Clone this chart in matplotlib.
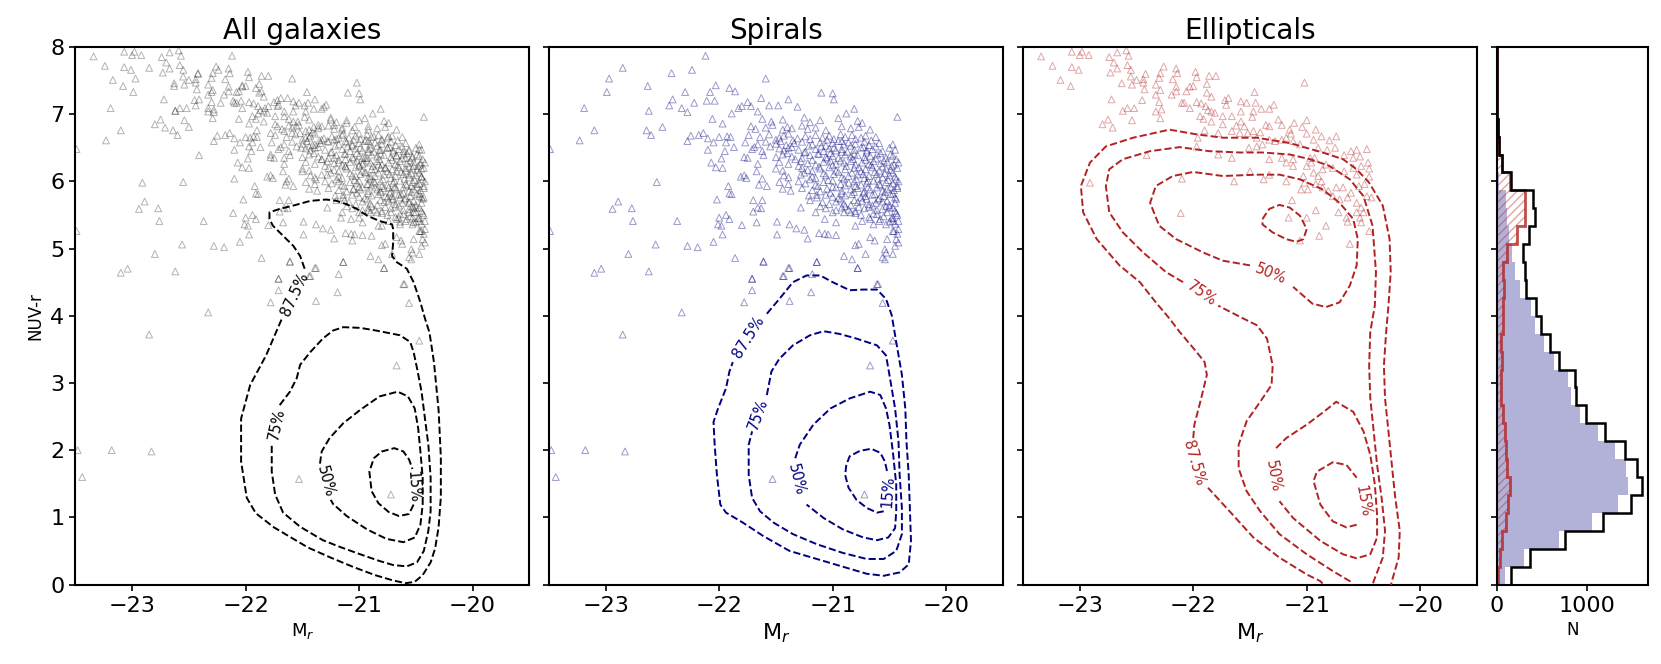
import numpy as np
import matplotlib
matplotlib.use("Agg")
from matplotlib import pyplot as plt
from matplotlib.ticker import MultipleLocator

# ---- scatter points (M_r, NUV-r) ----
spiral_pts = [
    (-22.12, 7.87), (-22.85, 7.69), (-22.97, 7.53), (-22.99, 7.33), (-22.63, 7.42), (-22.42, 7.61),
    (-22.24, 7.66), (-23.19, 7.09), (-23.10, 6.76), (-23.23, 6.61), (-23.49, 6.48), (-22.62, 7.05),
    (-22.64, 6.76), (-22.60, 6.69), (-22.50, 6.81), (-22.30, 7.33), (-22.41, 7.22), (-22.44, 7.13),
    (-22.33, 7.09), (-22.28, 7.03), (-22.22, 7.17), (-22.11, 7.20), (-22.04, 7.20), (-22.08, 7.33),
    (-22.03, 7.43), (-21.91, 7.39), (-21.86, 7.34), (-21.59, 7.53), (-22.06, 6.93), (-21.97, 6.86),
    (-21.89, 7.01), (-21.83, 7.09), (-21.80, 7.12), (-21.72, 7.12), (-21.75, 7.18), (-21.63, 7.24),
    (-21.66, 7.04), (-21.56, 7.13), (-21.48, 7.13), (-21.39, 7.22), (-21.31, 7.11), (-21.10, 7.32),
    (-21.00, 7.31), (-20.99, 7.22), (-20.88, 7.01), (-20.81, 7.08), (-20.43, 6.96), (-22.28, 6.60),
    (-22.25, 6.68), (-22.18, 6.69), (-22.14, 6.72), (-22.10, 6.64), (-22.05, 6.58), (-22.00, 6.66),
    (-21.93, 6.67), (-21.90, 6.66), (-21.94, 6.58), (-21.87, 6.51), (-21.95, 6.45), (-22.10, 6.47),
    (-21.98, 6.34), (-22.07, 6.28), (-22.03, 6.21), (-21.97, 6.20), (-22.55, 5.99), (-21.78, 6.36),
    (-21.75, 6.35), (-21.69, 6.51), (-21.66, 6.26), (-21.67, 6.15), (-21.78, 6.09), (-21.81, 6.07),
    (-21.76, 6.05), (-21.62, 6.04), (-21.65, 5.95), (-21.58, 5.93), (-21.92, 5.93), (-21.91, 5.82),
    (-21.89, 5.81), (-22.02, 5.73), (-22.89, 5.70), (-22.94, 5.59), (-22.77, 5.60), (-22.76, 5.41),
    (-22.37, 5.41), (-22.00, 5.46), (-21.94, 5.50), (-21.91, 5.44), (-22.01, 5.36), (-21.98, 5.34),
    (-21.80, 5.35), (-21.70, 5.72), (-21.62, 5.72), (-21.70, 5.55), (-21.66, 5.61), (-21.63, 5.60),
    (-21.67, 5.39), (-21.97, 5.21), (-22.05, 5.10), (-22.56, 5.06), (-22.28, 5.04), (-22.19, 5.02),
    (-21.86, 4.86), (-21.61, 4.81), (-21.49, 5.21), (-21.49, 5.40), (-21.38, 5.36), (-21.32, 5.30),
    (-21.25, 5.28), (-21.22, 5.15), (-21.28, 5.61), (-21.20, 5.72), (-21.14, 5.80), (-21.15, 5.54),
    (-21.11, 5.63), (-21.07, 5.44), (-21.00, 5.54), (-20.97, 5.39), (-20.90, 5.54), (-20.84, 5.54),
    (-20.80, 5.34), (-20.74, 5.41), (-20.67, 5.44), (-20.64, 5.36), (-20.59, 5.41), (-20.53, 5.36),
    (-20.47, 5.41), (-20.46, 5.26), (-20.44, 5.14), (-20.42, 5.09), (-20.45, 5.04), (-20.52, 5.14),
    (-20.54, 4.99), (-20.53, 4.94), (-20.47, 4.92), (-20.54, 4.84), (-20.56, 4.87), (-20.63, 5.12),
    (-20.67, 5.17), (-20.71, 4.92), (-20.77, 5.07), (-20.80, 5.05), (-20.83, 4.84), (-20.90, 4.89),
    (-20.78, 4.71), (-20.61, 4.47), (-21.04, 5.21), (-20.97, 5.20), (-21.12, 5.23), (-21.07, 5.22),
    (-21.14, 4.80), (-21.39, 4.71), (-21.43, 4.59), (-21.71, 4.55), (-22.80, 4.92), (-23.04, 4.70),
    (-23.10, 4.64), (-22.62, 4.66), (-23.49, 5.26),
    # below the main cloud
    (-21.53, 1.57), (-20.72, 1.34), (-20.67, 3.26), (-20.47, 3.63), (-20.56, 4.19), (-20.60, 4.47),
    (-22.33, 4.05), (-21.78, 4.20), (-21.71, 4.38), (-21.71, 4.55), (-21.38, 4.22), (-21.19, 4.35),
    (-21.44, 4.59), (-21.38, 4.71), (-21.18, 4.62), (-21.61, 4.80), (-21.14, 4.80), (-20.78, 4.71),
    (-22.85, 3.72), (-23.18, 2.00), (-22.83, 1.98), (-23.48, 2.00), (-23.44, 1.60),
    # dense cloud
    (-21.62, 6.93), (-21.54, 6.89), (-21.44, 6.92), (-21.25, 6.95), (-21.20, 6.88), (-21.11, 6.91),
    (-20.95, 6.94), (-20.78, 6.90), (-20.74, 6.87),
    (-21.72, 6.82), (-21.68, 6.78), (-21.59, 6.80), (-21.53, 6.84), (-21.44, 6.77), (-21.40, 6.81),
    (-21.36, 6.79), (-21.27, 6.83), (-21.22, 6.78), (-21.15, 6.80), (-21.06, 6.76), (-20.92, 6.82),
    (-20.84, 6.79), (-20.77, 6.81), (-20.67, 6.77),
    (-21.74, 6.69), (-21.64, 6.66), (-21.56, 6.70), (-21.47, 6.65), (-21.43, 6.68), (-21.39, 6.71),
    (-21.31, 6.64), (-21.24, 6.67), (-21.15, 6.69), (-21.09, 6.65), (-21.03, 6.68), (-20.99, 6.63),
    (-20.93, 6.70), (-20.89, 6.66), (-20.83, 6.69), (-20.75, 6.65), (-20.71, 6.68), (-20.62, 6.66),
    (-21.77, 6.58), (-21.66, 6.55), (-21.59, 6.59), (-21.50, 6.56), (-21.46, 6.60), (-21.41, 6.54),
    (-21.34, 6.57), (-21.27, 6.59), (-21.18, 6.55), (-21.11, 6.58), (-21.06, 6.53), (-21.00, 6.57),
    (-20.95, 6.60), (-20.90, 6.55), (-20.86, 6.58), (-20.80, 6.56), (-20.72, 6.59), (-20.68, 6.54),
    (-20.59, 6.57), (-20.47, 6.55),
    (-21.71, 6.48), (-21.62, 6.45), (-21.47, 6.49), (-21.43, 6.46), (-21.39, 6.50), (-21.30, 6.47),
    (-21.24, 6.44), (-21.15, 6.48), (-21.08, 6.45), (-21.03, 6.49), (-20.97, 6.46), (-20.92, 6.48),
    (-20.87, 6.44), (-20.81, 6.47), (-20.75, 6.50), (-20.70, 6.46), (-20.65, 6.48), (-20.56, 6.45),
    (-20.45, 6.47),
    (-21.61, 6.39), (-21.50, 6.36), (-21.44, 6.40), (-21.36, 6.37), (-21.27, 6.35), (-21.20, 6.39),
    (-21.12, 6.41), (-21.06, 6.36), (-21.00, 6.38), (-20.95, 6.35), (-20.89, 6.40), (-20.84, 6.37),
    (-20.78, 6.39), (-20.72, 6.36), (-20.67, 6.38), (-20.61, 6.40), (-20.53, 6.35), (-20.47, 6.38),
    (-21.47, 6.29), (-21.39, 6.26), (-21.28, 6.30), (-21.22, 6.27), (-21.15, 6.25), (-21.08, 6.29),
    (-21.02, 6.31), (-20.97, 6.26), (-20.90, 6.28), (-20.84, 6.30), (-20.80, 6.25), (-20.74, 6.28),
    (-20.68, 6.26), (-20.64, 6.30), (-20.58, 6.27), (-20.52, 6.29), (-20.46, 6.25), (-20.42, 6.28),
    (-21.50, 6.19), (-21.44, 6.16), (-21.27, 6.20), (-21.22, 6.17), (-21.18, 6.15), (-21.11, 6.19),
    (-21.03, 6.21), (-20.97, 6.16), (-20.89, 6.18), (-20.81, 6.20), (-20.75, 6.15), (-20.71, 6.18),
    (-20.65, 6.21), (-20.59, 6.16), (-20.53, 6.19), (-20.49, 6.17), (-20.43, 6.20),
    (-21.43, 6.09), (-21.39, 6.06), (-21.28, 6.10), (-21.18, 6.07), (-21.15, 6.05), (-21.06, 6.09),
    (-20.99, 6.11), (-20.92, 6.06), (-20.86, 6.08), (-20.78, 6.10), (-20.72, 6.05), (-20.68, 6.08),
    (-20.61, 6.11), (-20.56, 6.06), (-20.50, 6.09), (-20.45, 6.07),
    (-21.47, 5.99), (-21.39, 5.96), (-21.30, 6.00), (-21.24, 5.97), (-21.15, 5.95), (-21.08, 5.99),
    (-21.00, 6.01), (-20.93, 5.96), (-20.86, 5.98), (-20.81, 6.00), (-20.75, 5.95), (-20.70, 5.98),
    (-20.64, 6.01), (-20.59, 5.96), (-20.53, 5.99), (-20.47, 5.97), (-20.42, 6.00),
    (-21.44, 5.89), (-21.37, 5.86), (-21.27, 5.90), (-21.18, 5.87), (-21.11, 5.85), (-21.05, 5.89),
    (-20.97, 5.91), (-20.92, 5.86), (-20.84, 5.88), (-20.78, 5.90), (-20.72, 5.85), (-20.67, 5.88),
    (-20.61, 5.91), (-20.56, 5.86), (-20.52, 5.89), (-20.46, 5.87), (-20.43, 5.90),
    (-21.21, 5.79), (-21.14, 5.76), (-21.06, 5.80), (-21.00, 5.77), (-20.95, 5.75), (-20.89, 5.79),
    (-20.83, 5.81), (-20.75, 5.76), (-20.71, 5.78), (-20.65, 5.80), (-20.59, 5.75), (-20.55, 5.78),
    (-20.49, 5.81), (-20.45, 5.76),
    (-21.09, 5.69), (-21.03, 5.66), (-20.97, 5.70), (-20.90, 5.67), (-20.84, 5.65), (-20.78, 5.69),
    (-20.74, 5.71), (-20.68, 5.66), (-20.62, 5.68), (-20.56, 5.70), (-20.50, 5.65), (-20.45, 5.68),
    (-21.06, 5.60), (-20.97, 5.57), (-20.92, 5.61), (-20.86, 5.58), (-20.80, 5.56), (-20.72, 5.60),
    (-20.68, 5.62), (-20.61, 5.57), (-20.56, 5.59), (-20.50, 5.61), (-20.45, 5.56),
    (-20.75, 5.50), (-20.68, 5.47), (-20.61, 5.51), (-20.55, 5.48), (-20.47, 5.46), (-20.43, 5.50),
    (-20.50, 5.40), (-20.45, 5.37), (-20.42, 5.41), (-20.47, 5.26), (-20.43, 5.22), (-20.42, 5.29),
    # dense cloud, in-between rows
    (-21.50, 6.62), (-21.35, 6.61), (-21.20, 6.63), (-21.05, 6.62), (-20.92, 6.60), (-20.80, 6.63),
    (-20.66, 6.61),
    (-21.55, 6.52), (-21.36, 6.51), (-21.21, 6.53), (-21.10, 6.52), (-20.99, 6.50), (-20.84, 6.53),
    (-20.73, 6.51), (-20.62, 6.52), (-20.50, 6.50),
    (-21.40, 6.42), (-21.25, 6.43), (-21.13, 6.41), (-21.02, 6.42), (-20.92, 6.44), (-20.81, 6.41),
    (-20.70, 6.43), (-20.58, 6.42), (-20.49, 6.40),
    (-21.33, 6.33), (-21.18, 6.32), (-21.05, 6.34), (-20.93, 6.31), (-20.82, 6.33), (-20.71, 6.32),
    (-20.62, 6.34), (-20.55, 6.31), (-20.44, 6.33),
    (-21.30, 6.23), (-21.12, 6.22), (-21.00, 6.24), (-20.88, 6.23), (-20.77, 6.21), (-20.66, 6.24),
    (-20.56, 6.22), (-20.48, 6.23),
    (-21.25, 6.13), (-21.08, 6.12), (-20.95, 6.14), (-20.83, 6.13), (-20.73, 6.11), (-20.63, 6.14),
    (-20.54, 6.12), (-20.47, 6.13),
    (-21.20, 6.03), (-21.04, 6.02), (-20.90, 6.04), (-20.79, 6.03), (-20.69, 6.01), (-20.60, 6.04),
    (-20.51, 6.02), (-20.44, 6.03),
    (-21.13, 5.93), (-21.00, 5.92), (-20.89, 5.94), (-20.80, 5.93), (-20.69, 5.91), (-20.58, 5.94),
    (-20.49, 5.92), (-20.43, 5.93),
    (-21.02, 5.83), (-20.92, 5.82), (-20.81, 5.84), (-20.73, 5.83), (-20.63, 5.81), (-20.54, 5.84),
    (-20.47, 5.82),
    (-20.93, 5.73), (-20.81, 5.72), (-20.70, 5.74), (-20.60, 5.73), (-20.52, 5.71), (-20.44, 5.74),
    (-20.89, 5.63), (-20.77, 5.62), (-20.65, 5.64), (-20.53, 5.63), (-20.47, 5.61),
    (-20.80, 5.53), (-20.64, 5.52), (-20.52, 5.54), (-20.44, 5.53),
    (-20.58, 5.44), (-20.48, 5.45),
]

elliptical_pts = [
    (-23.34, 7.86), (-23.24, 7.72), (-23.07, 7.93), (-22.98, 7.93), (-23.00, 7.88), (-22.92, 7.88),
    (-23.07, 7.70), (-23.01, 7.66), (-23.17, 7.51), (-23.08, 7.42), (-22.74, 7.85), (-22.67, 7.92),
    (-22.59, 7.95), (-22.57, 7.87), (-22.70, 7.77), (-22.67, 7.68), (-22.58, 7.73), (-22.55, 7.66),
    (-22.73, 7.62), (-22.63, 7.46), (-22.55, 7.56), (-22.50, 7.51), (-22.54, 7.44), (-22.44, 7.52),
    (-22.42, 7.60), (-22.43, 7.37), (-22.44, 7.47), (-22.72, 7.22), (-22.62, 7.05), (-22.58, 7.09),
    (-22.52, 7.09), (-22.45, 7.21), (-22.54, 6.91), (-22.75, 6.92), (-22.80, 6.85), (-22.71, 6.80),
    (-22.29, 7.61), (-22.26, 7.71), (-22.30, 7.54), (-22.33, 7.44), (-22.29, 7.36), (-22.33, 7.29),
    (-22.30, 7.18), (-22.28, 7.07), (-22.33, 7.04), (-22.29, 6.94), (-22.18, 7.52), (-22.15, 7.68),
    (-22.14, 7.61), (-22.15, 7.41), (-22.15, 7.34), (-22.19, 7.29), (-22.10, 7.17), (-22.08, 7.17),
    (-22.03, 7.09), (-21.98, 7.63), (-21.97, 7.55), (-22.03, 7.41), (-22.00, 7.42), (-22.06, 7.34),
    (-21.88, 7.45), (-21.86, 7.57), (-21.80, 7.57), (-21.88, 7.32), (-21.84, 7.26), (-21.97, 7.18),
    (-21.93, 7.16), (-21.89, 7.12), (-21.87, 7.06), (-21.84, 7.04), (-21.81, 7.02), (-21.94, 6.97),
    (-21.91, 6.93), (-21.84, 6.89), (-21.74, 6.97), (-21.74, 6.85), (-21.72, 7.21), (-21.69, 7.24),
    (-21.71, 7.14), (-21.66, 6.97), (-21.58, 7.19), (-21.53, 7.17), (-21.46, 7.33), (-21.45, 7.17),
    (-21.40, 7.08), (-21.47, 7.04), (-21.48, 6.96), (-21.58, 7.04), (-21.33, 7.08), (-21.29, 7.14),
    (-21.62, 6.83), (-21.58, 6.89), (-21.55, 6.82), (-21.66, 6.75), (-21.59, 6.72), (-21.52, 6.72),
    (-21.47, 6.75), (-21.41, 6.73), (-21.36, 6.84), (-21.33, 6.82), (-21.25, 6.92), (-21.22, 6.84),
    (-21.90, 6.76), (-21.78, 6.72), (-21.96, 6.65), (-21.97, 6.52), (-21.02, 7.47), (-21.15, 6.77),
    (-21.11, 6.87), (-21.04, 6.81), (-21.00, 6.91), (-20.92, 6.77), (-21.14, 6.71), (-21.44, 6.65),
    (-21.39, 6.55), (-21.44, 6.52), (-21.51, 6.50), (-21.33, 6.62), (-21.28, 6.60), (-21.22, 6.62),
    (-21.18, 6.65), (-21.12, 6.60), (-21.06, 6.55), (-21.00, 6.71), (-20.94, 6.62), (-20.87, 6.67),
    (-20.80, 6.61), (-20.74, 6.67), (-20.90, 6.50), (-20.82, 6.47), (-20.75, 6.50), (-20.67, 6.39),
    (-20.61, 6.45), (-20.56, 6.47), (-20.47, 6.48), (-20.53, 6.37), (-20.59, 6.35), (-20.46, 6.28),
    (-20.45, 6.19), (-20.52, 6.23), (-20.59, 6.20), (-20.67, 6.15), (-20.56, 6.10), (-20.45, 6.07),
    (-20.49, 5.96), (-20.54, 5.93), (-20.61, 5.83), (-20.68, 5.91), (-20.74, 5.91), (-20.71, 5.73),
    (-20.64, 5.76), (-20.56, 5.68), (-20.47, 5.78), (-20.43, 5.76), (-20.52, 5.61), (-20.50, 5.54),
    (-20.56, 5.54), (-20.53, 5.46), (-20.52, 5.39), (-20.45, 5.26), (-20.65, 5.46), (-20.64, 5.40),
    (-20.72, 5.54), (-20.83, 5.34), (-20.89, 5.19), (-20.62, 5.07), (-20.92, 5.57), (-21.00, 5.46),
    (-21.16, 5.46), (-21.13, 5.72), (-21.06, 5.12), (-22.11, 5.53), (-22.91, 5.98), (-22.10, 6.04),
    (-21.64, 6.00), (-21.38, 6.03), (-21.33, 6.10), (-21.50, 6.15), (-21.18, 6.00), (-21.03, 6.08),
    (-20.94, 6.13), (-20.96, 6.28), (-21.00, 6.23), (-20.97, 6.35), (-20.93, 6.35), (-20.86, 6.18),
    (-20.83, 6.25), (-20.77, 6.20), (-20.92, 5.96), (-20.86, 5.91), (-20.81, 5.86), (-20.77, 5.78),
    (-20.90, 6.08), (-20.87, 6.00), (-21.02, 5.98), (-20.99, 5.88), (-21.05, 5.88), (-21.12, 6.33),
    (-21.22, 6.35), (-21.18, 6.28), (-21.12, 6.23), (-21.33, 6.33), (-21.66, 6.35), (-21.78, 6.40),
    (-22.41, 6.39),
]

# ---- histogram of NUV-r (30 bins from 0 to 8), counts per bin from bottom ----
hist_edges = np.linspace(0, 8, 31)
all_counts = [159, 362, 749, 1173, 1476, 1598, 1553, 1413, 1192, 989, 878, 860, 686, 583, 491,
              435, 317, 310, 290, 356, 425, 398, 155, 60, 22, 7, 3, 0, 0, 0]
spiral_counts = [90, 300, 690, 1050, 1340, 1450, 1430, 1300, 1120, 920, 815, 790, 630, 520, 420,
                 370, 250, 200, 170, 130, 110, 95, 20, 5, 2, 0, 0, 0, 0, 0]
elliptical_counts = [15, 30, 59, 96, 122, 148, 111, 103, 85, 66, 48, 41, 59, 48, 66,
                     66, 74, 66, 111, 221, 306, 306, 140, 55, 20, 6, 3, 0, 0, 0]

# ---- density contours (gaps left where labels sit) ----
all_lines = [
    [(-21.48, 4.70), (-21.52, 4.89), (-21.58, 5.04), (-21.67, 5.19), (-21.76, 5.34), (-21.79, 5.44),
     (-21.79, 5.54), (-21.70, 5.59), (-21.58, 5.64), (-21.43, 5.71), (-21.29, 5.73), (-21.20, 5.71),
     (-21.11, 5.66), (-21.02, 5.59), (-20.93, 5.49), (-20.82, 5.41), (-20.71, 5.36), (-20.70, 5.29),
     (-20.70, 5.09), (-20.71, 4.89), (-20.67, 4.80), (-20.58, 4.70), (-20.52, 4.50), (-20.46, 4.20),
     (-20.42, 3.96), (-20.38, 3.75), (-20.34, 3.30), (-20.30, 2.60), (-20.28, 1.90), (-20.28, 1.30),
     (-20.30, 0.85), (-20.33, 0.54), (-20.37, 0.33), (-20.44, 0.14), (-20.51, 0.04), (-20.59, 0.02),
     (-20.70, 0.06), (-20.86, 0.14), (-21.05, 0.26), (-21.25, 0.40), (-21.45, 0.55), (-21.60, 0.70),
     (-21.75, 0.85), (-21.91, 1.06), (-21.99, 1.29), (-22.04, 1.83), (-22.04, 2.47), (-21.96, 2.97),
     (-21.82, 3.41), (-21.68, 3.96)],
    [(-21.70, 2.67), (-21.61, 2.87), (-21.55, 3.07), (-21.52, 3.27), (-21.43, 3.46), (-21.32, 3.66),
     (-21.23, 3.78), (-21.14, 3.83), (-20.99, 3.82), (-20.85, 3.78), (-20.64, 3.71), (-20.55, 3.61),
     (-20.52, 3.46), (-20.49, 3.22), (-20.45, 2.87), (-20.42, 2.47), (-20.39, 2.08), (-20.37, 1.59),
     (-20.37, 1.09), (-20.39, 0.80), (-20.43, 0.50), (-20.49, 0.33), (-20.58, 0.27), (-20.70, 0.29),
     (-20.82, 0.35), (-20.99, 0.45), (-21.17, 0.56), (-21.32, 0.66), (-21.52, 0.86), (-21.67, 1.07),
     (-21.74, 1.34), (-21.77, 1.68), (-21.77, 2.08)],
    [(-21.345, 1.80), (-21.33, 1.98), (-21.26, 2.18), (-21.14, 2.40), (-20.99, 2.60), (-20.82, 2.80),
     (-20.66, 2.87), (-20.57, 2.80), (-20.51, 2.62), (-20.48, 2.33), (-20.46, 1.98), (-20.44, 1.59),
     (-20.44, 1.19), (-20.46, 0.89), (-20.51, 0.70), (-20.61, 0.63), (-20.76, 0.68), (-20.93, 0.82),
     (-21.11, 1.02), (-21.23, 1.20), (-21.25, 1.26)],
    [(-20.52, 1.19), (-20.56, 1.05), (-20.65, 1.02), (-20.74, 1.08), (-20.83, 1.21),
     (-20.89, 1.39), (-20.91, 1.68), (-20.87, 1.88), (-20.80, 1.98), (-20.69, 2.03), (-20.61, 1.98),
     (-20.56, 1.86), (-20.53, 1.72)],
]
all_labels = [("87.5%", -21.57, 4.32, 65), ("75%", -21.73, 2.38, 78),
              ("50%", -21.30, 1.53, -75), ("15%", -20.525, 1.46, -86)]

spiral_lines = [
    [(-21.58, 4.03), (-21.47, 4.25), (-21.35, 4.50), (-21.23, 4.60), (-21.11, 4.60), (-21.00, 4.50),
     (-20.85, 4.38), (-20.73, 4.39), (-20.61, 4.39), (-20.53, 4.25), (-20.48, 4.01), (-20.44, 3.61),
     (-20.39, 3.12), (-20.36, 2.62), (-20.35, 2.13), (-20.33, 1.63), (-20.32, 1.14), (-20.31, 0.65),
     (-20.33, 0.30), (-20.41, 0.18), (-20.55, 0.13), (-20.70, 0.16), (-20.88, 0.25), (-21.14, 0.38),
     (-21.38, 0.50), (-21.61, 0.72), (-21.79, 0.92), (-21.94, 1.07), (-21.99, 1.19), (-22.02, 1.63),
     (-22.04, 2.08), (-22.05, 2.42), (-22.01, 2.62), (-21.94, 2.92), (-21.91, 3.17), (-21.88, 3.31)],
    [(-21.58, 2.82), (-21.54, 3.17), (-21.47, 3.36), (-21.35, 3.56), (-21.20, 3.71), (-21.08, 3.77),
     (-20.94, 3.73), (-20.79, 3.66), (-20.61, 3.56), (-20.53, 3.41), (-20.50, 3.12), (-20.45, 2.62),
     (-20.42, 2.13), (-20.41, 1.63), (-20.39, 1.14), (-20.39, 0.75), (-20.44, 0.50), (-20.55, 0.38),
     (-20.70, 0.38), (-20.91, 0.47), (-21.14, 0.60), (-21.35, 0.75), (-21.52, 0.92), (-21.64, 1.09),
     (-21.71, 1.29), (-21.74, 1.63), (-21.74, 2.08), (-21.71, 2.28)],
    [(-21.33, 1.88), (-21.29, 2.08), (-21.17, 2.38), (-21.02, 2.62), (-20.85, 2.77), (-20.67, 2.87),
     (-20.58, 2.82), (-20.53, 2.62), (-20.50, 2.38), (-20.47, 1.98), (-20.44, 1.49), (-20.44, 1.09),
     (-20.45, 0.84), (-20.51, 0.70), (-20.61, 0.66), (-20.73, 0.70), (-20.91, 0.82), (-21.08, 0.99),
     (-21.23, 1.19)],
    [(-20.55, 1.09), (-20.61, 1.07), (-20.70, 1.14), (-20.79, 1.26), (-20.86, 1.44), (-20.89, 1.63),
     (-20.88, 1.78), (-20.85, 1.91), (-20.76, 1.99), (-20.66, 2.02), (-20.58, 1.96), (-20.54, 1.83),
     (-20.52, 1.68)],
]
spiral_labels = [("87.5%", -21.74, 3.68, 58), ("75%", -21.66, 2.53, 70),
                 ("50%", -21.32, 1.56, -76), ("15%", -20.51, 1.39, 86)]

elliptical_lines = [
    [(-20.80, -0.10), (-20.88, 0.05), (-21.00, 0.15), (-21.24, 0.40), (-21.47, 0.70), (-21.68, 1.09),
     (-21.87, 1.44)],
    [(-22.00, 2.18), (-21.99, 2.38), (-21.93, 2.77), (-21.88, 3.12), (-21.90, 3.31), (-21.97, 3.46),
     (-22.12, 3.76), (-22.21, 3.96), (-22.33, 4.20), (-22.47, 4.50), (-22.65, 4.75), (-22.85, 5.14),
     (-22.97, 5.54), (-22.99, 5.93), (-22.91, 6.28), (-22.77, 6.52), (-22.53, 6.65), (-22.21, 6.77),
     (-21.97, 6.70), (-21.74, 6.65), (-21.44, 6.65), (-21.15, 6.57), (-20.86, 6.43), (-20.68, 6.33),
     (-20.56, 6.18), (-20.45, 5.98), (-20.33, 5.64), (-20.27, 5.14), (-20.26, 4.65), (-20.28, 4.15),
     (-20.30, 3.76), (-20.32, 3.26), (-20.31, 2.77), (-20.28, 2.28), (-20.25, 1.78), (-20.22, 1.29),
     (-20.18, 0.80), (-20.19, 0.40), (-20.25, 0.05), (-20.27, -0.10)],
    [(-20.58, -0.10), (-20.62, 0.05), (-20.77, 0.20), (-21.00, 0.45), (-21.24, 0.75), (-21.41, 1.09),
     (-21.53, 1.39), (-21.60, 1.73), (-21.60, 2.08), (-21.53, 2.43), (-21.41, 2.72), (-21.31, 2.97),
     (-21.30, 3.26), (-21.35, 3.66), (-21.44, 3.86), (-21.56, 3.96), (-21.78, 4.15)],
    [(-22.09, 4.50), (-22.24, 4.65), (-22.44, 4.94), (-22.62, 5.24), (-22.74, 5.54), (-22.77, 5.93),
     (-22.74, 6.18), (-22.62, 6.33), (-22.38, 6.45), (-22.12, 6.51), (-21.86, 6.45), (-21.59, 6.43),
     (-21.39, 6.43), (-21.15, 6.40), (-20.97, 6.33), (-20.80, 6.23), (-20.62, 6.03), (-20.50, 5.78),
     (-20.42, 5.34), (-20.39, 4.65), (-20.40, 4.15), (-20.44, 3.76), (-20.45, 3.26), (-20.44, 2.77),
     (-20.41, 2.28), (-20.38, 1.78), (-20.34, 1.29), (-20.31, 0.80), (-20.33, 0.40), (-20.41, 0.05),
     (-20.44, -0.10)],
    [(-21.50, 4.75), (-21.74, 4.82), (-21.91, 4.94), (-22.15, 5.14), (-22.30, 5.34), (-22.38, 5.68),
     (-22.33, 5.93), (-22.18, 6.08), (-22.00, 6.14), (-21.74, 6.08), (-21.44, 6.10), (-21.24, 6.10),
     (-21.06, 6.03), (-20.86, 5.88), (-20.71, 5.68), (-20.59, 5.44), (-20.55, 5.14), (-20.56, 4.75),
     (-20.62, 4.45), (-20.71, 4.20), (-20.83, 4.13), (-20.95, 4.18), (-21.12, 4.43)],
    [(-21.39, 5.44), (-21.33, 5.59), (-21.24, 5.65), (-21.15, 5.61), (-21.06, 5.49), (-21.00, 5.29),
     (-21.03, 5.14), (-21.09, 5.10), (-21.18, 5.14), (-21.30, 5.24), (-21.39, 5.36), (-21.39, 5.44)],
    [(-21.27, 2.03), (-21.18, 2.18), (-21.00, 2.38), (-20.85, 2.57), (-20.74, 2.72), (-20.59, 2.57),
     (-20.50, 2.28), (-20.44, 1.93), (-20.40, 1.49), (-20.38, 1.04), (-20.38, 0.70), (-20.44, 0.45),
     (-20.56, 0.39), (-20.68, 0.45), (-20.88, 0.65), (-21.12, 0.99), (-21.24, 1.24)],
    [(-20.56, 0.89), (-20.65, 0.85), (-20.77, 0.94), (-20.88, 1.19), (-20.94, 1.54), (-20.91, 1.68),
     (-20.77, 1.82), (-20.65, 1.78), (-20.56, 1.59)],
]
elliptical_labels = [("87.5%", -22.00, 1.81, -74), ("75%", -21.93, 4.33, -35),
                     ("50%", -21.32, 4.63, -22), ("50%", -21.30, 1.61, -80),
                     ("15%", -20.51, 1.24, -80)]

SPIRAL_C = "navy"
ELLIP_C = "firebrick"


def scatter_pts(ax, pts, color, alpha):
    p = np.array(pts)
    ax.scatter(p[:, 0], p[:, 1], marker="^", s=24, facecolors="none",
               edgecolors=color, linewidths=0.7, alpha=alpha, zorder=1)


def draw_contours(ax, lines, labels, color):
    for line in lines:
        p = np.array(line)
        ax.plot(p[:, 0], p[:, 1], ls="--", lw=1.4, color=color, zorder=3)
    for txt, x, y, rot in labels:
        ax.text(x, y, txt, rotation=rot, color=color, fontsize=10.5,
                ha="center", va="center", rotation_mode="anchor", zorder=4)


def style_axes(ax):
    ax.set_xlim(-23.5, -19.5)
    ax.set_ylim(0, 8)
    ax.xaxis.set_major_locator(MultipleLocator(1))
    ax.yaxis.set_major_locator(MultipleLocator(1))
    ax.tick_params(labelsize=16, length=4.5, width=1.2, direction="out")
    for sp in ax.spines.values():
        sp.set_linewidth(1.5)


fig = plt.figure(figsize=(16.61, 6.64), dpi=100)
bottom, height = 0.1197, 0.8095
ax_all = fig.add_axes([0.0454, bottom, 0.2733, height])
ax_sp = fig.add_axes([0.3305, bottom, 0.2733, height])
ax_el = fig.add_axes([0.6159, bottom, 0.2733, height])
ax_h = fig.add_axes([0.9013, bottom, 0.0909, height])

# all galaxies
scatter_pts(ax_all, spiral_pts, "k", 0.3)
scatter_pts(ax_all, elliptical_pts, "k", 0.3)
draw_contours(ax_all, all_lines, all_labels, "k")
style_axes(ax_all)
ax_all.set_title("All galaxies", fontsize=20)
ax_all.set_xlabel("M$_r$", fontsize=13)
ax_all.set_ylabel("NUV-r", fontsize=12)

# spirals
scatter_pts(ax_sp, spiral_pts, SPIRAL_C, 0.4)
draw_contours(ax_sp, spiral_lines, spiral_labels, SPIRAL_C)
style_axes(ax_sp)
ax_sp.tick_params(labelleft=False)
ax_sp.set_title("Spirals", fontsize=20)
ax_sp.set_xlabel("M$_r$", fontsize=16)

# ellipticals
scatter_pts(ax_el, elliptical_pts, ELLIP_C, 0.4)
draw_contours(ax_el, elliptical_lines, elliptical_labels, ELLIP_C)
style_axes(ax_el)
ax_el.tick_params(labelleft=False)
ax_el.set_title("Ellipticals", fontsize=20)
ax_el.set_xlabel("M$_r$", fontsize=16)

# histogram panel
centers = 0.5 * (hist_edges[:-1] + hist_edges[1:])
ax_h.hist(centers, bins=hist_edges, weights=spiral_counts, orientation="horizontal",
          histtype="stepfilled", color=SPIRAL_C, alpha=0.3, lw=0)
ax_h.hist(centers, bins=hist_edges, weights=elliptical_counts, orientation="horizontal",
          histtype="stepfilled", facecolor="none", edgecolor=ELLIP_C, alpha=0.4,
          hatch="////", lw=0)
ax_h.hist(centers, bins=hist_edges, weights=elliptical_counts, orientation="horizontal",
          histtype="step", color=ELLIP_C, alpha=0.8, lw=2)
ax_h.hist(centers, bins=hist_edges, weights=all_counts, orientation="horizontal",
          histtype="step", color="k", lw=1.8)
ax_h.set_ylim(0, 8)
ax_h.set_xlim(0, 1670)
ax_h.xaxis.set_major_locator(MultipleLocator(1000))
ax_h.yaxis.set_major_locator(MultipleLocator(1))
ax_h.tick_params(labelsize=16, length=4.5, width=1.2, labelleft=False)
for sp in ax_h.spines.values():
    sp.set_linewidth(1.5)
ax_h.set_xlabel("N", fontsize=12)

fig.savefig("out.png", dpi=100)
